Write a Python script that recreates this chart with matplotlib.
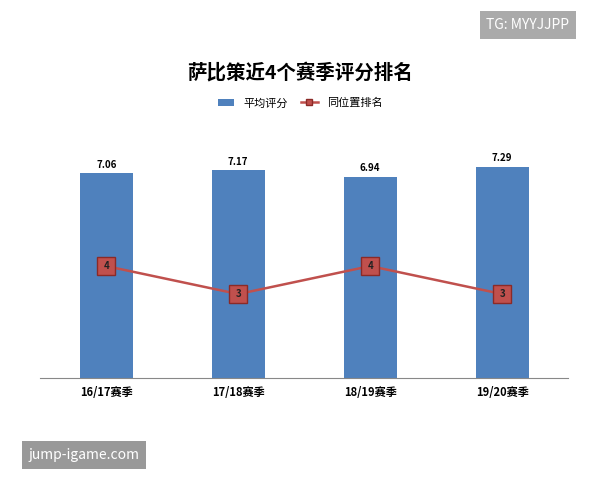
import matplotlib
matplotlib.use("Agg")
import matplotlib.pyplot as plt
import numpy as np

plt.rcParams['font.family'] = ['Noto Sans CJK SC', 'DejaVu Sans']

seasons = ["16/17赛季", "17/18赛季", "18/19赛季", "19/20赛季"]
ratings = [7.06, 7.17, 6.94, 7.29]
ranks = [4, 3, 4, 3]

BAR = "#4F81BD"
LINE = "#C0504D"

fig = plt.figure(figsize=(6, 4.8), dpi=100)
ax = fig.add_axes([0.067, 0.2125, 0.88, 0.4955])
x = np.arange(len(seasons))
ax.bar(x, ratings, width=0.4, color=BAR, label="平均评分")
for xi, v in zip(x, ratings):
    ax.text(xi, v + 0.12, f"{v:.2f}", ha="center", va="bottom", fontsize=7, fontweight="bold")
ax.set_ylim(0, 8.2)
ax.set_xlim(-0.5, 3.5)
ax.set_yticks([])
ax.set_xticks(x)
ax.set_xticklabels(seasons, fontsize=8, fontweight="bold")
ax.tick_params(axis="x", length=0, pad=6)
for s in ["left", "right", "top"]:
    ax.spines[s].set_visible(False)
ax.spines["bottom"].set_color("#888888")

ax2 = ax.twinx()
ax2.plot(x, ranks, color=LINE, linewidth=1.8, marker="s", markersize=13,
         markerfacecolor=LINE, markeredgecolor="#8B2A27", label="同位置排名")
for xi, r in zip(x, ranks):
    ax2.text(xi, r, str(r), ha="center", va="center", fontsize=7, fontweight="bold", color="#222222")
ax2.set_ylim(0, 8.5)
ax2.set_yticks([])
for s in ["left", "right", "top", "bottom"]:
    ax2.spines[s].set_visible(False)

h1, l1 = ax.get_legend_handles_labels()
h2, l2 = ax2.get_legend_handles_labels()
leg = fig.legend(h1 + h2, l1 + l2, loc="center", bbox_to_anchor=(0.5, 0.785), ncol=2,
                 frameon=False, fontsize=8, handlelength=1.5, columnspacing=1.2)
leg.legend_handles[1].set_markersize(5)

fig.text(0.5, 0.85, "萨比策近4个赛季评分排名", ha="center", va="center", fontsize=14, fontweight="bold")

fig.text(0.88, 0.948, "TG: MYYJJPP", ha="center", va="center", fontsize=10, color="white",
         bbox=dict(boxstyle="square,pad=0.5", facecolor="#AAAAAA", edgecolor="none"))
fig.text(0.14, 0.052, "jump-igame.com", ha="center", va="center", fontsize=10, color="white",
         bbox=dict(boxstyle="square,pad=0.5", facecolor="#999999", edgecolor="none"))

fig.savefig("out.png", dpi=100, facecolor="white")
